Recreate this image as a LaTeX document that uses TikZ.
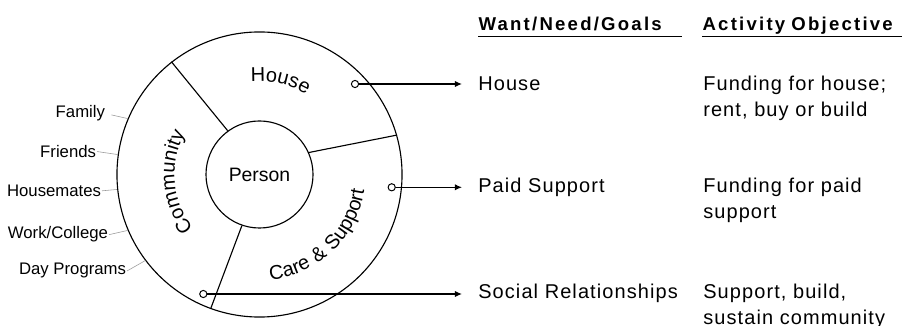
\documentclass[tikz,border=0pt]{standalone}
\usepackage{fontspec}
\setmainfont{Liberation Sans}
\newfontfamily\spacedfont{Liberation Sans}[LetterSpace=5.5]
\newfontfamily\headfont{Liberation Sans}[LetterSpace=12]
\usetikzlibrary{positioning, arrows.meta, calc, decorations.text}

\newcommand{\ringfont}{\spacedfont\fontsize{14.2}{17}\selectfont}

\begin{document}
\begin{tikzpicture}[
  x=0.025cm, y=0.025cm,
  ring/.style={draw, circle, line width=0.8pt, minimum size=7.125cm, inner sep=0pt},
  core/.style={draw, circle, line width=0.8pt, minimum size=2.675cm, inner sep=0pt,
    font=\fontsize{13.8}{16}\selectfont},
  split/.style={line width=0.8pt},
  hub/.style={draw, circle, line width=0.7pt, minimum size=0.18cm, inner sep=0pt, fill=white},
  feed/.style={-{Latex[length=5pt, width=4.5pt]}, line width=0.9pt, shorten >=11.4pt},
  side/.style={anchor=base east, inner sep=0.5pt, font=\fontsize{11.9}{14}\selectfont},
  leader/.style={draw=gray!80, line width=0.4pt},
  goal/.style={anchor=base west, inner sep=0pt, align=left,
    font=\spacedfont\fontsize{14.2}{18.5}\selectfont},
  head/.style={anchor=base west, inner xsep=0pt, inner ysep=1pt, text depth=2.6pt,
    font=\headfont\bfseries\fontsize{13.2}{15}\selectfont},
  rule/.style={line width=1.1pt},
  arclabel/.style={decorate, decoration={text along path, text align=center}}
]
\useasboundingbox (0,0) rectangle (907,-326);

% the person inside the ring of three areas
\node[ring] (ring)   at (259.5,-174.5) {};
\node[core] (person) at (ring.center) {Person};

\draw[split] (person.126) -- (ring.128);
\draw[split] (person.24)  -- (ring.16);
\draw[split] (person.251) -- (ring.250);

% area names follow the ring
\path[arclabel, decoration={text={|\ringfont|House}}]
  (ring.center) ++(115:93) arc[start angle=115, end angle=40, radius=93];
\path[arclabel, decoration={text={|\ringfont|Community}}]
  (ring.center) ++(230:85) arc[start angle=230, end angle=140, radius=85];
\path[arclabel, decoration={text={|\ringfont|Care {\&} Support}}]
  (ring.center) ++(-95:106) arc[start angle=-95, end angle=2.4, radius=106];

% community members round the left side
\node[side] (family)  at (106,-118)   {Family};
\node[side] (friends) at (97,-157.5)  {Friends};
\node[side] (mates)   at (102,-196.5) {Housemates};
\node[side] (work)    at (109,-239)   {Work/College};
\node[side] (day)     at (127,-275)   {Day Programs};

\draw[leader, shorten <=4pt] (family.east) -- (ring.157);
\draw[leader] (friends.east) -- (ring.172);
\draw[leader] (mates.east)   -- (ring.186);
\draw[leader] (work.east)    -- (ring.203);
\draw[leader] (day.east)     -- (ring.217);

% column headings
\node[head, text width=5.07cm]  (goalHead) at (478.3,-31) {Want/Need/Goals};
\node[head, text width=4.985cm] (aimHead)  at (702.3,-31) {Activity Objective};
\draw[rule] (goalHead.south west) -- (goalHead.south east);
\draw[rule] (aimHead.south west)  -- (aimHead.south east);

% one row per area
\node[goal] (goalH) at (478,-90.5) {House};
\node[goal] (goalP) at (478,-192.5) {Paid Support};
\node[goal] (goalS) at (478,-299) {Social Relationships};

\node[goal] (aimH) at (703,-116.5) {Funding for house;\\rent, buy or build};
\node[goal] (aimP) at (703,-218.5) {Funding for paid\\support};
\node[goal] (aimS) at (703,-325) {Support, build,\\sustain community};

% each area feeds its row
\node[hub] (hubH) at (355,-84) {};
\node[hub] (hubP) at (391.7,-187.3) {};
\node[hub] (hubS) at (203.3,-294) {};

\draw[feed] (hubH.east) -- (hubH.east -| goalH.west);
\draw[feed] (hubP.east) -- (hubP.east -| goalP.west);
\draw[feed] (hubS.east) -- (hubS.east -| goalS.west);

\end{tikzpicture}
\end{document}
